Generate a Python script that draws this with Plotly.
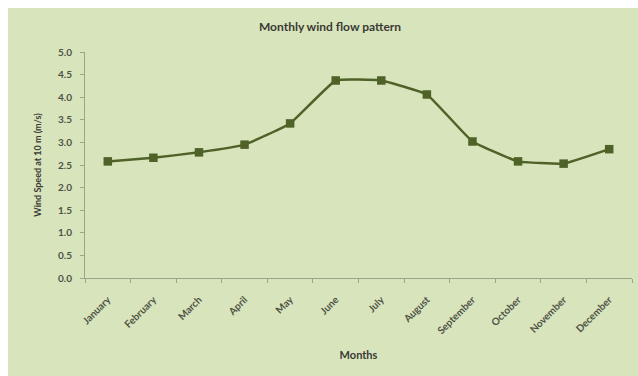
import plotly.graph_objects as go

# Monthly mean wind speed at 10 m height
months = ["January", "February", "March", "April", "May", "June",
          "July", "August", "September", "October", "November", "December"]
wind_speed = [2.58, 2.66, 2.78, 2.95, 3.42, 4.37, 4.37, 4.06, 3.02, 2.58, 2.53, 2.85]
y_ticks = [0.0, 0.5, 1.0, 1.5, 2.0, 2.5, 3.0, 3.5, 4.0, 4.5, 5.0]

W, H = 638, 376
ml, mr, mt, mb = 85, 6, 52, 98
pw, ph = W - ml - mr, H - mt - mb

bg = "#d8e4bc"
olive = "#4f6228"
axis_col = "#9aa58a"
text_col = "#4d5245"
font_family = "Lato, 'Open Sans', 'Liberation Sans', sans-serif"

fig = go.Figure()
fig.add_trace(go.Scatter(
    x=months, y=wind_speed,
    mode="lines+markers",
    line=dict(color=olive, width=2.5, shape="spline", smoothing=0.3),
    marker=dict(symbol="square", size=8.5, color=olive),
    showlegend=False,
    hoverinfo="x+y",
))

# chart area panel, leaving a thin white frame along the top and left edges
fig.add_shape(
    type="rect", xref="paper", yref="paper",
    x0=(8 - ml) / pw, x1=(W - ml) / pw,
    y0=-mb / ph, y1=(H - mb - 8) / ph,
    fillcolor=bg, line=dict(width=0), layer="below",
)

fig.update_layout(
    width=W, height=H,
    margin=dict(l=ml, r=mr, t=mt, b=mb),
    paper_bgcolor="white",
    plot_bgcolor=bg,
    font=dict(family=font_family, color=text_col),
    title=dict(
        text="<b>Monthly wind flow pattern</b>",
        x=330 / W, xanchor="center",
        y=1 - 27 / H, yanchor="middle",
        font=dict(size=12, color="#3a3a34"),
    ),
    xaxis=dict(
        type="category",
        range=[-0.5, 11.5],
        showline=True, linecolor=axis_col, linewidth=1,
        ticks="outside", tickson="boundaries", ticklen=4, tickcolor=axis_col,
        tickangle=-45,
        ticklabelstandoff=11,
        tickfont=dict(size=10, color=text_col, weight="bold"),
        showgrid=False, zeroline=False,
        title=dict(text="<b>Months</b>", font=dict(size=11, color="#3a3a34"), standoff=16),
        fixedrange=True,
    ),
    yaxis=dict(
        range=[0, 5.0],
        tickvals=y_ticks,
        ticktext=[f"{v:.1f}" for v in y_ticks],
        showline=True, linecolor=axis_col, linewidth=1,
        ticks="outside", ticklen=4, tickcolor=axis_col,
        ticklabelstandoff=6,
        tickfont=dict(size=10, color=text_col, weight="bold"),
        showgrid=False, zeroline=False,
        title=dict(text="<b>Wind Speed at 10 m (m/s)</b>", font=dict(size=9, color="#3a3a34"), standoff=14),
        fixedrange=True,
    ),
)

fig.write_html("out.html")
